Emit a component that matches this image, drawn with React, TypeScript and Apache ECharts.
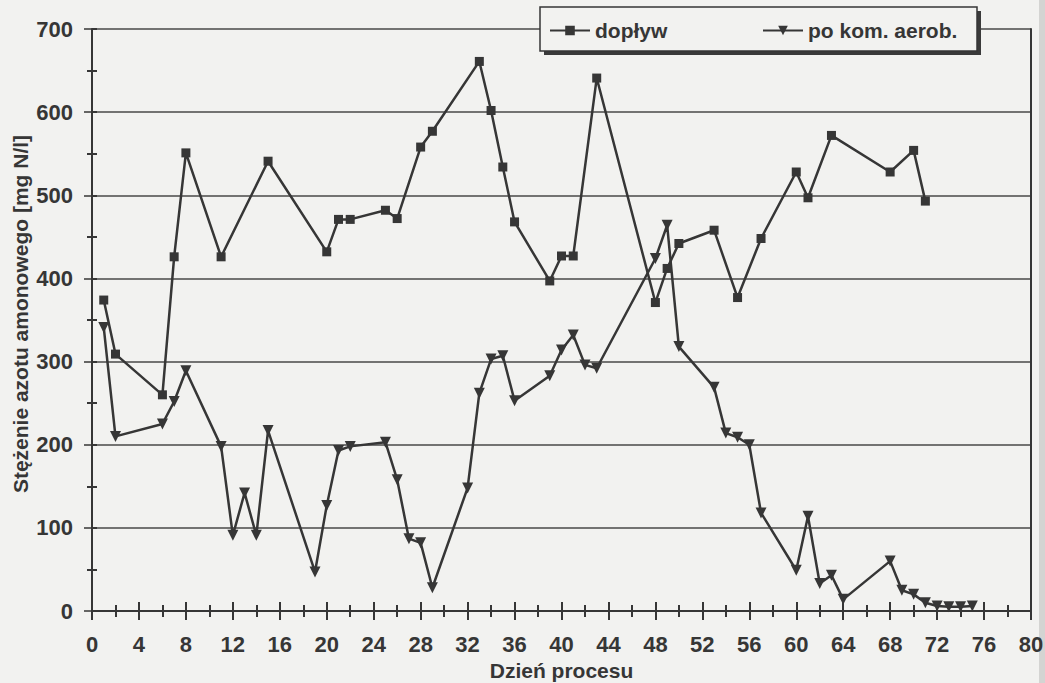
import React, { useEffect, useRef } from "react";
import * as echarts from "echarts";

// Day of process for each inflow sample and its ammonium nitrogen (mg N/l)
const inflowDays = [1, 2, 6, 7, 8, 11, 15, 20, 21, 22, 25, 26, 28, 29, 33, 34, 35, 36, 39, 40, 41, 43, 48, 49, 50, 53, 55, 57, 60, 61, 63, 68, 70, 71];
const inflowValues = [374, 309, 260, 426, 551, 426, 541, 432, 471, 471, 482, 472, 558, 577, 661, 602, 534, 468, 397, 427, 427, 641, 371, 412, 442, 458, 377, 448, 528, 497, 572, 528, 554, 493];

// Samples taken after the aerobic chamber
const aerobDays = [1, 2, 6, 7, 8, 11, 12, 13, 14, 15, 19, 20, 21, 22, 25, 26, 27, 28, 29, 32, 33, 34, 35, 36, 39, 40, 41, 42, 43, 48, 49, 50, 53, 54, 55, 56, 57, 60, 61, 62, 63, 64, 68, 69, 70, 71, 72, 73, 74, 75];
const aerobValues = [341, 210, 225, 252, 289, 198, 91, 142, 91, 217, 47, 127, 193, 198, 203, 158, 87, 82, 28, 148, 262, 303, 307, 253, 283, 314, 332, 296, 292, 424, 464, 318, 269, 214, 209, 200, 118, 49, 114, 33, 43, 14, 60, 25, 20, 10, 6, 5, 5, 6];

const seriesNames = ["dopływ", "po kom. aerob."];
const xTitle = "Dzień procesu";
const yTitle = "Stężenie azotu amonowego [mg N/l]";

const X_MIN = 0;
const X_MAX = 80;
const X_STEP = 4;
const Y_MIN = 0;
const Y_MAX = 700;
const Y_STEP = 100;

const INK = "#363636";
const PAPER = "#f2f2f0";
const FONT = "'Liberation Sans', Arial, sans-serif";

function pairs(xs: number[], ys: number[]) {
  return xs.map((x, i) => [x, ys[i]]);
}

export default function App() {
  const ref = useRef<HTMLDivElement>(null);

  useEffect(() => {
    if (!ref.current) return;
    const chart = echarts.init(ref.current, undefined, { renderer: "svg" });

    const labelStyle = {
      color: INK,
      fontFamily: FONT,
      fontSize: 22,
      fontWeight: "bold" as const,
    };

    const baseX = {
      type: "value" as const,
      min: X_MIN,
      max: X_MAX,
      interval: X_STEP,
      position: "bottom" as const,
      splitLine: { show: false },
      z: 6,
    };
    const baseY = {
      type: "value" as const,
      min: Y_MIN,
      max: Y_MAX,
      interval: Y_STEP,
    };

    const option: any = {
      animation: false,
      backgroundColor: PAPER,
      grid: {
        left: 92,
        right: 14,
        top: 29,
        bottom: 72,
        containLabel: false,
        outerBoundsMode: "none",
      },
      xAxis: [
        {
          ...baseX,
          name: xTitle,
          nameLocation: "middle",
          nameGap: 47,
          nameTextStyle: { ...labelStyle, fontSize: 21 },
          axisLine: { show: true, onZero: false, lineStyle: { color: INK, width: 2 } },
          axisTick: { show: true, inside: false, length: 9, lineStyle: { color: INK, width: 2 } },
          minorTick: { show: true, splitNumber: 2, length: 6, lineStyle: { color: INK, width: 2 } },
          axisLabel: { ...labelStyle, margin: 22 },
        },
        {
          ...baseX,
          axisLine: { show: false, onZero: false },
          axisTick: { show: true, inside: true, length: 9, lineStyle: { color: INK, width: 2 } },
          minorTick: { show: true, splitNumber: 2, length: 6, lineStyle: { color: INK, width: 2 } },
          axisLabel: { show: false },
        },
      ],
      yAxis: [
        {
          ...baseY,
          position: "left",
          axisLine: { show: true, onZero: false, lineStyle: { color: INK, width: 2 } },
          axisTick: { show: true, inside: false, length: 8, lineStyle: { color: INK, width: 1.5 } },
          minorTick: { show: true, splitNumber: 2, length: 5, lineStyle: { color: INK, width: 2 } },
          splitLine: { show: true, lineStyle: { color: "#484848", width: 1.5 } },
          axisLabel: { ...labelStyle, margin: 19 },
        },
        {
          ...baseY,
          position: "left",
          offset: 0,
          axisLine: { show: false, onZero: false },
          axisTick: { show: true, inside: true, length: 5, lineStyle: { color: INK, width: 2 } },
          minorTick: { show: true, splitNumber: 2, length: 5, lineStyle: { color: INK, width: 2 } },
          splitLine: { show: false },
          axisLabel: { show: false },
        },
        {
          ...baseY,
          position: "right",
          offset: 0,
          axisLine: { show: true, onZero: false, lineStyle: { color: INK, width: 2 } },
          axisTick: { show: false },
          splitLine: { show: false },
          axisLabel: { show: false },
        },
      ],
      legend: [
        {
          data: [seriesNames[0]],
          left: 549,
          top: 20,
          padding: 0,
          itemWidth: 40,
          itemHeight: 12,
          z: 20,
          textStyle: { ...labelStyle, fontSize: 21 },
        },
        {
          data: [seriesNames[1]],
          left: 762,
          top: 20,
          padding: 0,
          itemWidth: 40,
          itemHeight: 12,
          z: 20,
          textStyle: { ...labelStyle, fontSize: 21 },
        },
      ],
      graphic: [
        {
          type: "rect",
          z: 15,
          shape: { x: 544, y: 11, width: 437, height: 44 },
          style: { fill: "#3a3a3a" },
        },
        {
          type: "rect",
          z: 16,
          shape: { x: 540, y: 7, width: 437, height: 44 },
          style: { fill: PAPER, stroke: INK, lineWidth: 1.5 },
        },
        {
          type: "text",
          z: 16,
          x: 20,
          y: 314,
          rotation: Math.PI / 2,
          style: {
            text: yTitle,
            font: `bold 21px ${FONT}`,
            fill: INK,
            align: "center",
            verticalAlign: "middle",
          },
        },
        {
          // grey scan margin along the right edge, kept beneath the axes
          type: "rect",
          z: 0,
          shape: { x: 1039, y: 0, width: 6, height: 683 },
          style: { fill: "#d4d4d2" },
        },
      ],
      series: [
        {
          name: seriesNames[0],
          type: "line",
          xAxisIndex: 0,
          yAxisIndex: 0,
          data: pairs(inflowDays, inflowValues),
          symbol: "rect",
          symbolSize: 9,
          itemStyle: { color: INK },
          lineStyle: { color: INK, width: 2.5 },
          z: 5,
        },
        {
          name: seriesNames[1],
          type: "line",
          xAxisIndex: 0,
          yAxisIndex: 0,
          data: pairs(aerobDays, aerobValues),
          symbol: "triangle",
          symbolRotate: 180,
          symbolSize: 11,
          itemStyle: { color: INK },
          lineStyle: { color: INK, width: 2.5 },
          z: 5,
        },
      ],
    };

    chart.setOption(option);
    return () => chart.dispose();
  }, []);

  return (
    <div
      ref={ref}
      style={{ position: "fixed", left: 0, top: 0, width: 1045, height: 683, background: PAPER }}
    />
  );
}
